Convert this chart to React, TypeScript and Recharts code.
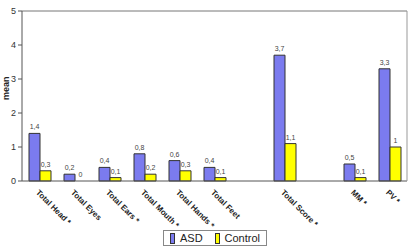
import { Bar, BarChart, LabelList, Legend, ReferenceLine, XAxis, YAxis } from "recharts";

const categories = [
  "Total Head *",
  "Total Eyes",
  "Total Ears *",
  "Total Mouth *",
  "Total Hands *",
  "Total Feet",
  "",
  "Total Score *",
  "",
  "MM *",
  "PV *",
];
const asd = [1.4, 0.2, 0.4, 0.8, 0.6, 0.4, null, 3.7, null, 0.5, 3.3];
const control = [0.3, 0, 0.1, 0.2, 0.3, 0.1, null, 1.1, null, 0.1, 1];
const yTicks = [0, 1, 2, 3, 4, 5];

const data = categories.map((name, i) => ({ name, ASD: asd[i], Control: control[i] }));

const FONT = "Arial, Liberation Sans, sans-serif";

const fmt = (v: number) => String(v).replace(".", ",");

// value label above each bar, comma as decimal mark
const ValueLabel = (props: any) => {
  const { x, y, width, value } = props;
  if (value === null || value === undefined) return null;
  return (
    <text x={x + width / 2} y={y - 4} textAnchor="middle" fontSize={7} fill="#444" fontFamily={FONT}>
      {fmt(value)}
    </text>
  );
};

// zero-height control bars are not drawn, so put their "0" next to the ASD bar
const ZeroLabel = (props: any) => {
  const { x, y, width, height, value } = props;
  if (value !== 0) return null;
  return (
    <text x={x + width * 1.5} y={y + height - 4} textAnchor="middle" fontSize={7} fill="#444" fontFamily={FONT}>
      {fmt(value)}
    </text>
  );
};

// rotated category labels
const XTick = (props: any) => {
  const { x, y, payload } = props;
  return (
    <text
      x={x - 4}
      y={y + 4}
      transform={`rotate(45 ${x - 4} ${y + 4})`}
      fontSize={8}
      fontWeight="bold"
      fontFamily={FONT}
      fill="#222"
      textAnchor="start"
    >
      {payload.value}
    </text>
  );
};

const renderLegend = () => (
  <div
    style={{
      display: "flex",
      alignItems: "center",
      border: "1px solid #888",
      height: 16,
      boxSizing: "border-box",
      padding: "0 6px",
      fontFamily: FONT,
      fontSize: 11,
      color: "#222",
      background: "#fff",
    }}
  >
    <span style={{ width: 9, height: 9, background: "#7B7BEF", border: "1px solid #333", marginRight: 5 }} />
    <span style={{ marginRight: 12 }}>ASD</span>
    <span style={{ width: 9, height: 9, background: "#FFFF00", border: "1px solid #333", marginRight: 5 }} />
    <span>Control</span>
  </div>
);

export default function App() {
  return (
    <div style={{ position: "absolute", left: 0, top: 0, background: "#fff" }}>
      <BarChart
        width={411}
        height={250}
        data={data}
        margin={{ top: 11, right: 0, left: 0, bottom: 0 }}
        barGap={0}
        barSize={11}
      >
        <XAxis
          dataKey="name"
          interval={0}
          height={69}
          tick={<XTick />}
          tickLine={false}
          axisLine={{ stroke: "#555" }}
        />
        <YAxis
          width={22}
          domain={[0, 5]}
          ticks={yTicks}
          tickSize={4}
          tick={{ fontSize: 9, fill: "#333", fontFamily: FONT }}
          axisLine={{ stroke: "#555" }}
          tickLine={{ stroke: "#555" }}
          label={{
            value: "mean",
            angle: -90,
            position: "insideLeft",
            offset: 0,
            dx: 6,
            dy: 4,
            style: { fontSize: 9, fontWeight: "bold", fill: "#222", fontFamily: FONT },
          }}
        />
        <YAxis
          yAxisId="frame"
          orientation="right"
          width={4}
          domain={[0, 5]}
          tick={false}
          tickLine={false}
          axisLine={{ stroke: "#999" }}
        />
        <ReferenceLine y={5} stroke="#777" />
        <Bar dataKey="ASD" fill="#7B7BEF" stroke="#333" strokeWidth={1} isAnimationActive={false}>
          <LabelList dataKey="ASD" content={<ValueLabel />} />
          <LabelList dataKey="Control" content={<ZeroLabel />} />
        </Bar>
        <Bar dataKey="Control" fill="#FFFF00" stroke="#333" strokeWidth={1} isAnimationActive={false}>
          <LabelList dataKey="Control" content={<ValueLabel />} />
        </Bar>
        <Legend
          verticalAlign="middle"
          align="center"
          content={renderLegend}
          wrapperStyle={{ position: "absolute", left: 163, top: 230, width: 104, height: 17 }}
        />
      </BarChart>
    </div>
  );
}
